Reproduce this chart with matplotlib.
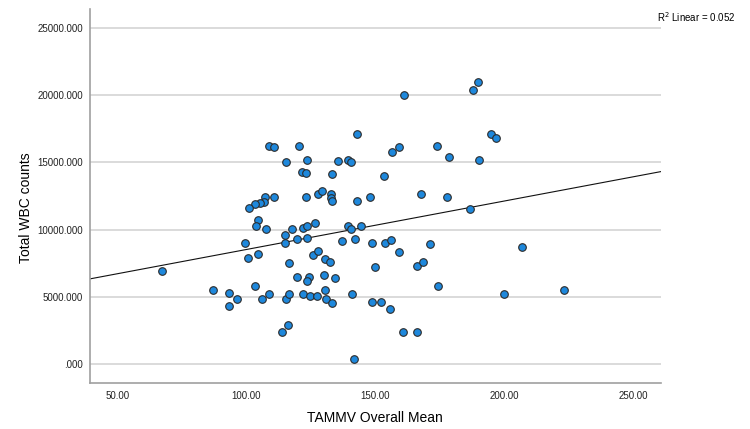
import numpy as np
import matplotlib
matplotlib.use("Agg")
import matplotlib.pyplot as plt
from matplotlib.ticker import FuncFormatter

plt.rcParams['font.family'] = ['Liberation Sans', 'DejaVu Sans']

# TAMMV overall mean (x) vs total WBC counts (y)
tammv = [108.9, 110.6, 120.4, 115.2, 123.6, 121.4, 123.2, 143.1, 156.6, 159.2,
         173.9, 178.5, 190.3, 194.9, 196.9, 161.3, 187.9, 190.0, 135.7, 139.6,
         140.7, 133.3, 153.5, 127.9, 129.3, 132.8, 132.8, 133.2, 142.8, 148.1,
         167.6, 177.9, 186.7, 110.7, 107.3, 123.0, 106.9, 105.1, 103.2, 101.0,
         104.4, 103.7, 107.6, 117.6, 121.9, 123.6, 126.5, 139.3, 140.6, 144.3,
         99.5, 100.5, 104.6, 115.1, 115.1, 119.5, 123.7, 116.5, 137.0, 142.2,
         148.7, 153.7, 156.0, 171.1, 207.1, 159.1, 126.0, 127.9, 130.6, 132.4,
         149.8, 166.1, 168.6, 67.1, 119.8, 124.4, 123.7, 130.1, 134.5, 174.3,
         87.1, 93.1, 93.1, 96.5, 103.2, 106.1, 108.6, 115.4, 116.6, 122.0,
         124.7, 127.5, 130.6, 130.8, 133.3, 140.9, 148.9, 152.1, 155.9, 200.1,
         223.3, 113.9, 116.1, 160.9, 166.1, 141.9]
wbc = [16219, 16122, 16219, 15006, 15200, 14307, 14210, 17112, 15795, 16122,
       16219, 15423, 15200, 17112, 16814, 20014, 20408, 21003, 15103, 15200,
       14992, 14114, 14010, 12626, 12894, 12670, 12313, 12164, 12090, 12410,
       12626, 12402, 11510, 12402, 12410, 12410, 12030, 11993, 11889, 11606,
       10714, 10304, 10044, 10044, 10104, 10267, 10513, 10304, 10007, 10304,
       9017, 7901, 8206, 9612, 8988, 9300, 9404, 7500, 9114, 9300,
       9017, 9002, 9203, 8906, 8705, 8310, 8095, 8422, 7812, 7611,
       7217, 7314, 7611, 6897, 6495, 6495, 6198, 6599, 6413, 5803,
       5506, 5305, 4315, 4799, 5803, 4814, 5193, 4814, 5193, 5193,
       5082, 5082, 5520, 4821, 4561, 5208, 4613, 4613, 4114, 5193,
       5506, 2396, 2902, 2396, 2396, 394]

x_ticks = [50, 100, 150, 200, 250]
y_ticks = [0, 5000, 10000, 15000, 20000, 25000]
r2_text = "R$^2$ Linear = 0.052"

fig = plt.figure(figsize=(7.5, 4.29), dpi=100)
ax = fig.add_axes([90 / 750, 1 - 383 / 429, 571.3 / 750, 374 / 429])

ax.set_axisbelow(True)
ax.yaxis.grid(True, color='#d4d4d4', linewidth=1.2)

ax.scatter(tammv, wbc, s=30, color='#1e88dc', edgecolors='#2b2b2b',
           linewidths=0.8, zorder=3)

# linear fit through the points
slope, intercept = np.polyfit(tammv, wbc, 1)
xs = np.array([39.3, 261.0])
ax.plot(xs, intercept + slope * xs, color='#111111', linewidth=0.8, zorder=2)

ax.set_xlim(39.3, 261.0)
ax.set_ylim(-1414, 26412)
ax.set_xticks(x_ticks)
ax.set_yticks(y_ticks)
ax.xaxis.set_major_formatter(FuncFormatter(lambda v, p: f"{v:.2f}"))
ax.yaxis.set_major_formatter(FuncFormatter(lambda v, p: ".000" if v == 0 else f"{v:.3f}"))
ax.tick_params(axis='both', length=0, labelsize=7, colors='#222222')
ax.tick_params(axis='x', pad=6)
ax.tick_params(axis='y', pad=5)

for s in ['top', 'right']:
    ax.spines[s].set_visible(False)
for s in ['left', 'bottom']:
    ax.spines[s].set_color('#a0a0a0')
    ax.spines[s].set_linewidth(1.2)

ax.set_xlabel("TAMMV Overall Mean", fontsize=10)
ax.set_ylabel("Total WBC counts", fontsize=10)
ax.xaxis.set_label_coords(0.499, -0.074)
ax.yaxis.set_label_coords(-0.100, 0.47)

fig.text(657 / 750, 1 - 17 / 429, r2_text, fontsize=7, ha='left', va='center')

fig.savefig("out.png", dpi=100)
